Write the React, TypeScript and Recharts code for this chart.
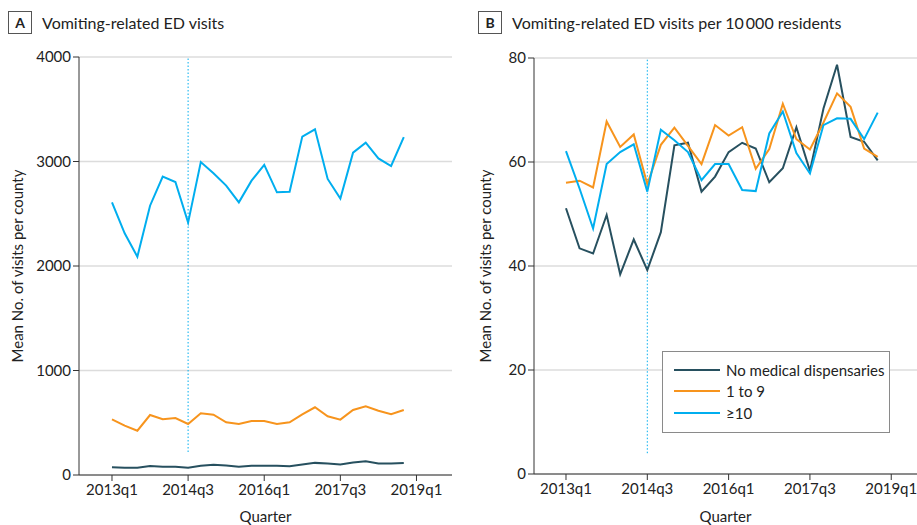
import React from "react";
import {
  LineChart,
  Line,
  XAxis,
  YAxis,
  CartesianGrid,
  ReferenceLine
} from "recharts";

// Quarters 2013q1 .. 2018q4
const quarters = [
  "2013q1", "2013q2", "2013q3", "2013q4",
  "2014q1", "2014q2", "2014q3", "2014q4",
  "2015q1", "2015q2", "2015q3", "2015q4",
  "2016q1", "2016q2", "2016q3", "2016q4",
  "2017q1", "2017q2", "2017q3", "2017q4",
  "2018q1", "2018q2", "2018q3", "2018q4"
];

const tickLabels = ["2013q1", "2014q3", "2016q1", "2017q3", "2019q1"];
const tickIndex = [0, 6, 12, 18, 24];

// Panel A: mean visits per county
const visitsNone = [74, 70, 70, 85, 78, 80, 70, 88, 97, 90, 80, 88, 88, 88, 83, 100, 116, 110, 100, 120, 132, 110, 110, 116];
const visitsLow = [533, 472, 424, 574, 533, 545, 488, 590, 577, 504, 488, 517, 517, 488, 504, 581, 648, 562, 530, 622, 657, 615, 581, 622];
const visitsHigh = [2609, 2313, 2089, 2577, 2855, 2804, 2415, 2995, 2887, 2769, 2609, 2817, 2967, 2705, 2710, 3238, 3308, 2833, 2645, 3085, 3180, 3030, 2957, 3234];

// Panel B: visits per 10 000 residents
const rateNone = [51.1, 43.4, 42.4, 49.8, 38.4, 45.1, 39.2, 46.5, 63.2, 63.7, 54.3, 57.2, 61.9, 63.7, 62.6, 56.1, 58.8, 66.7, 58.3, 70.3, 78.7, 64.8, 63.9, 60.3];
const rateLow = [56.0, 56.4, 55.1, 67.8, 62.9, 65.3, 55.7, 63.3, 66.6, 63.1, 59.6, 67.1, 65.1, 66.7, 58.7, 62.5, 71.2, 64.4, 62.4, 67.6, 73.2, 70.6, 62.6, 61.0];
const rateHigh = [62.1, 54.9, 47.2, 59.6, 61.9, 63.4, 54.3, 66.2, 64.2, 61.9, 56.5, 59.6, 59.6, 54.6, 54.4, 65.5, 69.7, 61.7, 57.8, 67.1, 68.4, 68.3, 64.4, 69.5];

const seriesNames = ["No medical dispensaries", "1 to 9", "≥10"];
const colors = ["#27505f", "#f7941d", "#00aeef"];

const dataA = quarters.map((q, i) => ({ idx: i, q, none: visitsNone[i], low: visitsLow[i], high: visitsHigh[i] }));
const dataB = quarters.map((q, i) => ({ idx: i, q, none: rateNone[i], low: rateLow[i], high: rateHigh[i] }));

const FONT = "Lato, 'Open Sans', sans-serif";
const AXIS = "#333";
const tickFmt = (v: number) => tickLabels[tickIndex.indexOf(v)] ?? "";

function PanelTitle({ letter, text, left }: { letter: string; text: string; left: number }) {
  return (
    <div style={{ position: "absolute", left, top: 11, display: "flex", alignItems: "center" }}>
      <div
        style={{
          width: 22,
          height: 21,
          border: "1px solid #555",
          display: "flex",
          alignItems: "center",
          justifyContent: "center",
          fontWeight: 700,
          fontSize: 14,
          color: "#222"
        }}
      >
        {letter}
      </div>
      <div style={{ marginLeft: 10, fontSize: 16, color: "#222" }}>{text}</div>
    </div>
  );
}

// legend box drawn over panel B
function LegendBox() {
  return (
    <div
      style={{
        position: "absolute",
        left: 662,
        top: 351,
        border: "1px solid #8a8a8a",
        width: 228,
        height: 82,
        boxSizing: "border-box",
        padding: "7px 0 0 11px",
        background: "#fff"
      }}
    >
      {seriesNames.map((name, i) => (
        <div key={name} style={{ display: "flex", alignItems: "center", height: 21.5 }}>
          <div style={{ width: 46, height: 2, background: colors[i] }} />
          <span style={{ marginLeft: 6, fontSize: 15, color: "#222" }}>{name}</span>
        </div>
      ))}
    </div>
  );
}

export default function App() {
  const lines = (
    ["none", "low", "high"].map((key, i) => (
      <Line
        key={key}
        type="linear"
        dataKey={key}
        name={seriesNames[i]}
        stroke={colors[i]}
        strokeWidth={2}
        dot={false}
        isAnimationActive={false}
      />
    ))
  );

  return (
    <div style={{ position: "absolute", left: 0, top: 0, width: 917, height: 525, fontFamily: FONT, background: "#fff" }}>
      <PanelTitle letter="A" text="Vomiting-related ED visits" left={8} />
      <PanelTitle letter="B" text={"Vomiting-related ED visits per 10\u2009000 residents"} left={478} />

      <div style={{ position: "absolute", left: 0, top: 0 }}>
        <LineChart width={457} height={525} data={dataA} margin={{ top: 57, right: 5, left: 0, bottom: 0 }}>
          <CartesianGrid horizontal vertical={false} stroke="#dcdcdc" strokeWidth={1.5} />
          <XAxis
            dataKey="idx"
            type="number"
            domain={[-2.6, 26.8]}
            ticks={tickIndex}
            tickFormatter={tickFmt}
            height={50}
            stroke={AXIS}
            tick={{ fill: "#222", fontSize: 15 }}
            tickSize={6}
            tickMargin={3}
            label={{ value: "Quarter", position: "insideBottom", offset: 3, fill: "#222", fontSize: 15 }}
          />
          <YAxis
            type="number"
            domain={[0, 4000]}
            ticks={[0, 1000, 2000, 3000, 4000]}
            width={79}
            stroke={AXIS}
            tick={{ fill: "#222", fontSize: 15 }}
            tickSize={6}
            label={{ value: "Mean No. of visits per county", angle: -90, position: "insideLeft", offset: 18, fill: "#222", fontSize: 15, style: { textAnchor: "middle" } }}
          />
          <ReferenceLine
            segment={[{ x: 6, y: 220 }, { x: 6, y: 4000 }]}
            stroke="#00aeef"
            strokeDasharray="1.5 2"
            strokeWidth={1}
          />
          {lines}
        </LineChart>
      </div>

      <div style={{ position: "absolute", left: 458, top: 0 }}>
        <LineChart width={459} height={525} data={dataB} margin={{ top: 58, right: 0, left: 0, bottom: 0 }}>
          <CartesianGrid horizontal vertical={false} stroke="#dcdcdc" strokeWidth={1.5} />
          <XAxis
            dataKey="idx"
            type="number"
            domain={[-2.36, 25.9]}
            ticks={tickIndex}
            tickFormatter={tickFmt}
            height={51}
            stroke={AXIS}
            tick={{ fill: "#222", fontSize: 15 }}
            tickSize={6}
            tickMargin={3}
            label={{ value: "Quarter", position: "insideBottom", offset: 3, fill: "#222", fontSize: 15 }}
          />
          <YAxis
            type="number"
            domain={[0, 80]}
            ticks={[0, 20, 40, 60, 80]}
            width={76}
            stroke={AXIS}
            tick={{ fill: "#222", fontSize: 15 }}
            tickSize={6}
            label={{ value: "Mean No. of visits per county", angle: -90, position: "insideLeft", offset: 28, fill: "#222", fontSize: 15, style: { textAnchor: "middle" } }}
          />
          <ReferenceLine
            segment={[{ x: 6, y: 4 }, { x: 6, y: 80 }]}
            stroke="#00aeef"
            strokeDasharray="1.5 2"
            strokeWidth={1}
          />
          {lines}
        </LineChart>
      </div>

      <LegendBox />
    </div>
  );
}
